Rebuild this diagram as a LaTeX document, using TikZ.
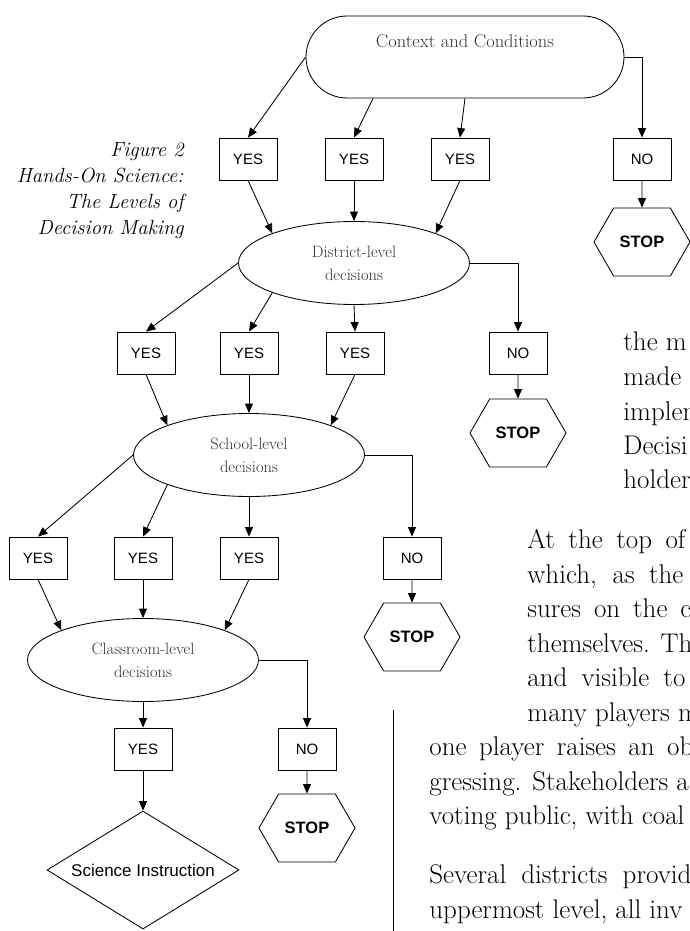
\documentclass[tikz,border=0pt]{standalone}
\usepackage{fontspec}
\newfontfamily\arialfont{Liberation Sans}
\usetikzlibrary{arrows.meta,shapes.geometric,shapes.symbols}

\begin{document}
\begin{tikzpicture}[x=1pt,y=1pt,line width=0.85pt,
    flow/.style={-{Triangle[length=9.5pt,width=8pt]}},
    answer/.style={draw,rectangle,minimum width=58,minimum height=42,font=\arialfont\fontsize{15}{18}\selectfont},
    level/.style={draw,ellipse,minimum width=231,minimum height=83,align=center,text=black!80,font=\fontsize{16.5}{23}\selectfont},
    stopsign/.style={draw,signal,signal to=east and west,signal pointer angle=120,minimum width=96,minimum height=68,font=\arialfont\bfseries\fontsize{16.5}{19}\selectfont},
    bodytext/.style={anchor=base west,font=\fontsize{27}{34}\selectfont}]
  \tikzstyle{every node}+=[inner sep=0pt]
  \useasboundingbox (0,0) rectangle (689,-931);

  % caption
  \node[anchor=north east,align=right,font=\itshape\fontsize{20.5}{26}\selectfont] (caption) at (184,-142)
    {Figure 2\\Hands-On Science:\\The Levels of\\Decision Making};

  % context
  \node[draw,rectangle,rounded corners=41,minimum width=318,minimum height=82] (ctx) at (465,-57) {};
  \node[anchor=base,text=black!80,font=\fontsize{18.5}{21}\selectfont] (ctxtext) at (465,-48) {Context and Conditions};
  \node[answer] (yes1) at (248,-159) {YES};
  \node[answer] (yes2) at (354,-159) {YES};
  \node[answer] (yes3) at (460,-159) {YES};
  \node[answer] (no1) at (642,-159) {NO};
  \node[stopsign] (stop1) at (642,-242) {STOP};
  \draw[flow] (ctx.west) -- (yes1.north);
  \draw[flow] ([xshift=-92]ctx.south) -- (yes2.north);
  \draw[flow] (ctx.south) -- (yes3.north);
  \draw[flow] (ctx.east) -| (no1.north);
  \draw[flow] (no1) -- (stop1);

  % district
  \node[level] (dist) at (354,-263) {District-level\\decisions};
  \draw[flow] (yes1.south) -- (dist.160);
  \draw[flow] (yes2.south) -- (dist.north);
  \draw[flow] (yes3.south) -- (dist.20);
  \node[answer] (yes4) at (146,-353) {YES};
  \node[answer] (yes5) at (249,-353) {YES};
  \node[answer] (yes6) at (355,-353) {YES};
  \node[answer] (no2) at (518,-353) {NO};
  \node[stopsign] (stop2) at (518,-433) {STOP};
  \draw[flow] (dist.west) -- (yes4.north);
  \draw[flow] (dist.200) -- (yes5.north);
  \draw[flow] (dist.south) -- (yes6.north);
  \draw[flow] (dist.east) -| (no2.north);
  \draw[flow] (no2) -- (stop2);

  % school
  \node[level] (school) at (249,-455) {School-level\\decisions};
  \draw[flow] (yes4.south) -- (school.160);
  \draw[flow] (yes5.south) -- (school.north);
  \draw[flow] (yes6.south) -- (school.20);
  \node[answer] (yes7) at (38,-558) {YES};
  \node[answer] (yes8) at (143,-558) {YES};
  \node[answer] (yes9) at (249,-558) {YES};
  \node[answer] (no3) at (412,-558) {NO};
  \node[stopsign] (stop3) at (412,-637) {STOP};
  \draw[flow] (school.west) -- (yes7.north);
  \draw[flow] (school.200) -- (yes8.north);
  \draw[flow] (school.south) -- (yes9.north);
  \draw[flow] (school.east) -| (no3.north);
  \draw[flow] (no3) -- (stop3);

  % classroom
  \node[level] (class) at (143,-660) {Classroom-level\\decisions};
  \draw[flow] (yes7.south) -- (class.160);
  \draw[flow] (yes8.south) -- (class.north);
  \draw[flow] (yes9.south) -- (class.20);
  \node[answer] (yes10) at (143,-749) {YES};
  \node[answer] (no4) at (307,-749) {NO};
  \node[stopsign] (stop4) at (307,-828) {STOP};
  \node[draw,diamond,aspect=1.63,minimum width=192,minimum height=118,font=\arialfont\fontsize{17}{20}\selectfont] (instr) at (143,-870) {Science Instruction};
  \draw[flow] (class.south) -- (yes10.north);
  \draw[flow] (class.east) -| (no4.north);
  \draw[flow] (yes10) -- (instr);
  \draw[flow] (no4) -- (stop4);

  % page text
  \draw[line width=0.8pt] (393,-710) -- (393,-931);
  \begin{scope}
    \clip (0,0) rectangle (689,-931);
    \node[bodytext] (p1) at (623,-350) {the m};
    \node[bodytext] (p2) at (623,-385) {made};
    \node[bodytext] (p3) at (623,-420) {implem};
    \node[bodytext] (p4) at (623,-454) {Decisi};
    \node[bodytext] (p5) at (623,-488) {holder};
    \node[bodytext] (q1) at (527,-548) {\makebox[158pt][s]{At the top of}};
    \node[bodytext] (q2) at (527,-583) {\makebox[156pt][s]{which, as the}};
    \node[bodytext] (q3) at (527,-617) {\makebox[164pt][s]{sures on the c}};
    \node[bodytext] (q4) at (527,-652) {themselves. Th};
    \node[bodytext] (q5) at (527,-686) {\makebox[158pt][s]{and visible to}};
    \node[bodytext] (q6) at (527,-721) {many players m};
    \node[bodytext] (q7) at (429,-755) {\makebox[264pt][s]{one player raises an ob}};
    \node[bodytext] (q8) at (429,-790) {gressing. Stakeholders a};
    \node[bodytext] (q9) at (429,-824) {voting public, with coal};
    \node[bodytext] (r1) at (429,-883) {\makebox[262pt][s]{Several districts provid}};
    \node[bodytext] (r2) at (429,-918) {uppermost level, all inv};
  \end{scope}
\end{tikzpicture}
\end{document}
